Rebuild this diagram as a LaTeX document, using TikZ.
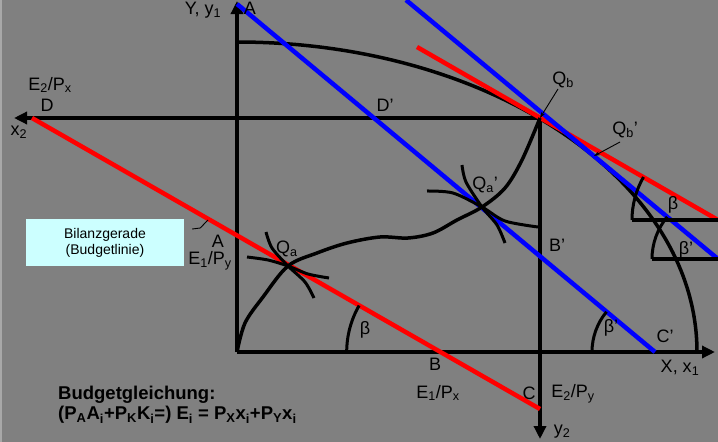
\documentclass[tikz,border=0pt]{standalone}
\usepackage{fontspec}
\setmainfont{Liberation Sans}
\usetikzlibrary{arrows.meta, positioning, calc}
\definecolor{bg}{HTML}{808080}
\definecolor{edge}{HTML}{A8A8A8}
\definecolor{budget}{HTML}{FF0000}
\definecolor{shifted}{HTML}{0000FF}
\definecolor{note}{HTML}{CCFFFF}

\begin{document}
\begin{tikzpicture}[x=1pt, y=-1pt,
    every node/.style={font=\fontsize{18}{20}\selectfont, inner sep=0pt},
    lab/.style={text=black},
    axis/.style={black, line width=3.5pt, -{Triangle[length=13pt, width=12pt]}},
    curve/.style={black, line width=3.5pt},
    indiff/.style={black, line width=3pt},
    redline/.style={budget, line width=4.5pt},
    blueline/.style={shifted, line width=4.5pt},
    angarc/.style={black, line width=3pt},
    leader/.style={black, line width=0.9pt, -{Stealth[length=6pt, width=4pt]}},
    notebox/.style={fill=note, minimum width=158pt, minimum height=47pt,
                    align=center, font=\fontsize{14}{16}\selectfont},
]
% ---------------------------------------------------------------- frame
\fill[bg] (0,0) rectangle (718,442);
\fill[edge] (0,0) rectangle (2,442);
\useasboundingbox (0,0) rectangle (718,442);
\clip (0,0) rectangle (718,442);

% ---------------------------------------------------------------- points
\coordinate (O)   at (237,352);
\coordinate (A)   at (237,4);
\coordinate (Qb)  at (540,118);
\coordinate (Qbp) at (594,156);
\coordinate (Qa)  at (288,266);
\coordinate (Qap) at (482,207);
\coordinate (D)   at (32,118);
\coordinate (C)   at (540,409);
\coordinate (B)   at (439.7,352);
\coordinate (Cp)  at (655,352);
\coordinate (Rb)  at (718,220);
\coordinate (Bb)  at (718,259);

% ---------------------------------------------------------------- axes
\draw[axis] (O) -- (237,1);
\draw[axis] (O) -- (715,352);
\draw[axis] (Qb) -- (14,118);
\draw[axis] (Qb) -- (540,439);

% transformation curve
\draw[curve] (237,42) arc[start angle=90, end angle=0, x radius=460pt, y radius=310pt];

% ---------------------------------------------------------------- budget lines
\draw[redline] (D) -- (C);
\draw[redline] (417,47) -- (Rb);
\draw[blueline] (A) -- (Cp);
\draw[blueline] (406,0) -- (Bb);
\draw[curve] (632,220) -- (Rb);
\draw[curve] (652,259) -- (Bb);

% contract curve
\draw[curve] plot[smooth, tension=0.55] coordinates {(O) (245,323) (263,297) (Qa)
    (317,253) (347,243) (380,237) (408,238) (433,233) (457,220) (Qap)
    (505,188) (522,160) (Qb)};

% indifference curves
\draw[indiff] plot[smooth] coordinates {(247,257) (268,260) (Qa) (308,274) (329,278)};
\draw[indiff] plot[smooth] coordinates {(266,232) (272,248) (Qa) (305,282) (314,298)};
\draw[indiff] plot[smooth] coordinates {(427,191) (453,193) (Qap) (505,221) (538,227)};
\draw[indiff] plot[smooth] coordinates {(462,165) (466,182) (Qap) (497,225) (505,243)};

% angles
\draw[angarc] ([shift={(180:93pt)}]B) arc[start angle=180, end angle=150, radius=93pt];
\draw[angarc] ([shift={(180:63pt)}]Cp) arc[start angle=180, end angle=140.3, radius=63pt];
\draw[angarc] ([shift={(180:86pt)}]Rb) arc[start angle=180, end angle=150, radius=86pt];
\draw[angarc] ([shift={(180:66pt)}]Bb) arc[start angle=180, end angle=140.3, radius=66pt];

% ---------------------------------------------------------------- labels
\node[lab] (lY)   at (203,10)  {Y, y\textsubscript{1}};
\node[lab] (lA)   at (250,8)   {A};
\node[lab] (lE2x) at (50,85)   {E\textsubscript{2}/P\textsubscript{x}};
\node[lab] (lD)   at (47,105)  {D};
\node[lab] (lx2)  at (19,132)  {x\textsubscript{2}};
\node[lab] (lDp)  at (385,105) {D'};
\node[lab] (lQb)  at (563,80)  {Q\textsubscript{b}};
\node[lab] (lQbp) at (625,130) {Q\textsubscript{b}'};
\node[lab] (lQa)  at (287,249) {Q\textsubscript{a}};
\node[lab] (lQap) at (485,185) {Q\textsubscript{a}'};
\node[lab] (lBp)  at (557,245) {B'};
\node[lab] (lA1)  at (218,241) {A};
\node[lab] (lE1y) at (210,261) {E\textsubscript{1}/P\textsubscript{y}};
\node[lab] (lB)   at (435,364) {B};
\node[lab] (lE1x) at (438,393) {E\textsubscript{1}/P\textsubscript{x}};
\node[lab] (lC)   at (529,393) {C};
\node[lab] (lE2y) at (573,394) {E\textsubscript{2}/P\textsubscript{y}};
\node[lab] (ly2)  at (562,432) {y\textsubscript{2}};
\node[lab] (lX)   at (680,368) {X, x\textsubscript{1}};
\node[lab] (lCp)  at (665,336) {C'};
\node[lab] (lb1)  at (365,330) {β};
\node[lab] (lb2)  at (611,328) {β'};
\node[lab] (lb3)  at (673,205) {β};
\node[lab] (lb4)  at (686,250) {β'};

\draw[leader] (558,89) -- (Qb);
\draw[leader] (620,142) -- (Qbp);

% note box
\node[notebox] (bilanz) at (105,242.5) {Bilanzgerade\\(Budgetlinie)};
\draw[line width=0.9pt] ($(bilanz.east)+(8,-13.5)$) -- ++(8,-1) -- (208,220);

% equation
\node[anchor=west, align=left, font=\fontsize{18.5}{20}\selectfont\bfseries] (budgeq) at (58,405)
    {Budgetgleichung:\\(P\textsubscript{A}A\textsubscript{i}+P\textsubscript{K}K\textsubscript{i}=) E\textsubscript{i} = P\textsubscript{X}x\textsubscript{i}+P\textsubscript{Y}x\textsubscript{i}};
\end{tikzpicture}
\end{document}
